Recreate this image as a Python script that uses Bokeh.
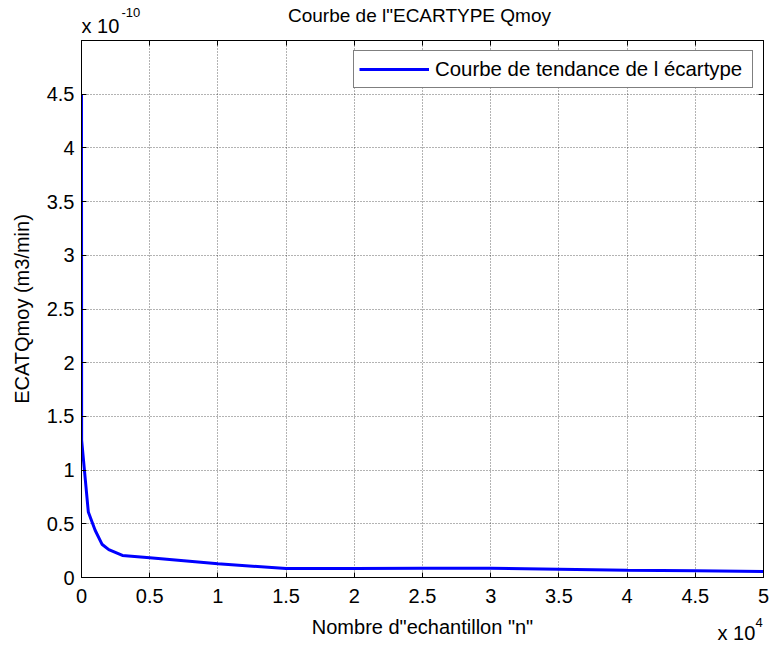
from bokeh.plotting import figure
from bokeh.layouts import column
from bokeh.models import (Range1d, LinearAxis, FixedTicker, CustomJSTickFormatter,
                          Label, Legend, LegendItem)
from bokeh.embed import file_html
from bokeh.resources import INLINE

# ---- data ----
n_samples = [1, 10, 500, 1000, 1500, 2000, 3000, 5000, 10000, 15000,
             20000, 25000, 30000, 35000, 40000, 45000, 50000]
ecart_e10 = [4.5, 1.28, 0.61, 0.44, 0.31, 0.26, 0.205, 0.183, 0.127, 0.084,
             0.084, 0.085, 0.086, 0.077, 0.068, 0.062, 0.056]
ecart = [v * 1e-10 for v in ecart_e10]

x_ticks = [0, 5000, 10000, 15000, 20000, 25000, 30000, 35000, 40000, 45000, 50000]
y_ticks = [0, 0.5e-10, 1e-10, 1.5e-10, 2e-10, 2.5e-10, 3e-10, 3.5e-10, 4e-10, 4.5e-10]

title_text = 'Courbe de l"ECARTYPE Qmoy'
x_label = 'Nombre d"echantillon "n"'
y_label = 'ECATQmoy (m3/min)'
legend_label = 'Courbe de tendance de l écartype'
y_mult, y_exp = "x 10", "-10"
x_mult, x_exp = "x 10", "4"

FONT = "Liberation Sans"
FS = "20px"
W = 771
TOP_H, MAIN_H, BOT_H = 37, 576, 34

XMAX, YMAX = 5e4, 5e-10


def text_strip(height):
    f = figure(width=W, height=height, output_backend="svg", toolbar_location=None,
               x_axis_location=None, y_axis_location=None,
               min_border=0, min_border_left=0, min_border_right=0,
               min_border_top=0, min_border_bottom=0)
    f.outline_line_color = None
    f.background_fill_color = "white"
    f.border_fill_color = "white"
    f.grid.visible = False
    return f


def canvas_label(x, y, text, size, align="left"):
    return Label(x=x, y=y, x_units="canvas", y_units="canvas", text=text,
                 text_align=align, text_baseline="alphabetic", text_font=FONT,
                 text_font_size=size, text_color="black")


# ---- top strip: title + y multiplier ----
top = text_strip(TOP_H)
top.add_layout(canvas_label(419, 15, title_text, "19px", "center"))
top.add_layout(canvas_label(81, 25, y_mult, FS))
top.add_layout(canvas_label(121, 12, y_exp, "13px"))

# ---- main plot ----
p = figure(width=W, height=MAIN_H, x_range=Range1d(0, XMAX), y_range=Range1d(0, YMAX),
           output_backend="svg", toolbar_location=None,
           min_border_left=81, min_border_right=8, min_border_top=3, min_border_bottom=36)
p.background_fill_color = "white"
p.border_fill_color = "white"
p.outline_line_color = "black"
p.outline_line_width = 1

xfmt = CustomJSTickFormatter(code="return String(+(tick/1e4).toFixed(2));")
yfmt = CustomJSTickFormatter(code="return String(+(tick*1e10).toFixed(2));")

for ax, tk, fm in ((p.xaxis[0], x_ticks, xfmt), (p.yaxis[0], y_ticks, yfmt)):
    ax.ticker = FixedTicker(ticks=tk)
    ax.formatter = fm
    ax.major_tick_in = 5
    ax.major_tick_out = 0
    ax.minor_tick_in = 0
    ax.minor_tick_out = 0
    ax.axis_line_color = "black"
    ax.major_tick_line_color = "black"
    ax.major_label_text_font = FONT
    ax.major_label_text_font_size = FS
    ax.major_label_text_color = "black"
    ax.axis_label_text_font = FONT
    ax.axis_label_text_font_size = FS
    ax.axis_label_text_font_style = "normal"
    ax.axis_label_text_color = "black"

p.xaxis[0].major_label_standoff = 11
p.yaxis[0].axis_label = y_label
p.yaxis[0].major_label_standoff = 7
p.yaxis[0].axis_label_standoff = 11

# mirrored tick marks on top and right (no labels drawn)
top_ax = LinearAxis(ticker=FixedTicker(ticks=x_ticks), major_tick_in=5, major_tick_out=0,
                    minor_tick_in=0, minor_tick_out=0, major_label_text_font_size="0px",
                    major_label_text_color=None, major_label_standoff=0,
                    axis_line_color="black")
right_ax = LinearAxis(ticker=FixedTicker(ticks=y_ticks), major_tick_in=5, major_tick_out=0,
                      minor_tick_in=0, minor_tick_out=0, major_label_text_font_size="0px",
                      major_label_text_color=None, major_label_standoff=0,
                      axis_line_color="black")
p.add_layout(top_ax, "above")
p.add_layout(right_ax, "right")

for g, tk in ((p.xgrid[0], x_ticks), (p.ygrid[0], y_ticks)):
    g.ticker = FixedTicker(ticks=tk)
    g.grid_line_color = "#000000"
    g.grid_line_alpha = 0.6
    g.grid_line_dash = "1 2"
    g.grid_line_width = 1

r = p.line(n_samples, ecart, line_color="#0000ff", line_width=3)

legend = Legend(items=[LegendItem(label=legend_label, renderers=[r])],
                location="top_right", margin=10, padding=5, spacing=0,
                glyph_width=70, glyph_height=26, label_height=26, label_width=312,
                label_standoff=6,
                label_text_font=FONT, label_text_font_size="20.4px", label_text_color="black",
                border_line_color="black", border_line_width=1,
                background_fill_color="white", background_fill_alpha=1)
p.add_layout(legend)

# ---- bottom strip: x label + x multiplier ----
bot = text_strip(BOT_H)
bot.add_layout(canvas_label(422, 13, x_label, FS, "center"))
bot.add_layout(canvas_label(717, 19, x_mult, FS))
bot.add_layout(canvas_label(755, 9, x_exp, "13px"))

layout = column(top, p, bot, spacing=0)
open("out.html", "w").write(file_html(layout, INLINE))
